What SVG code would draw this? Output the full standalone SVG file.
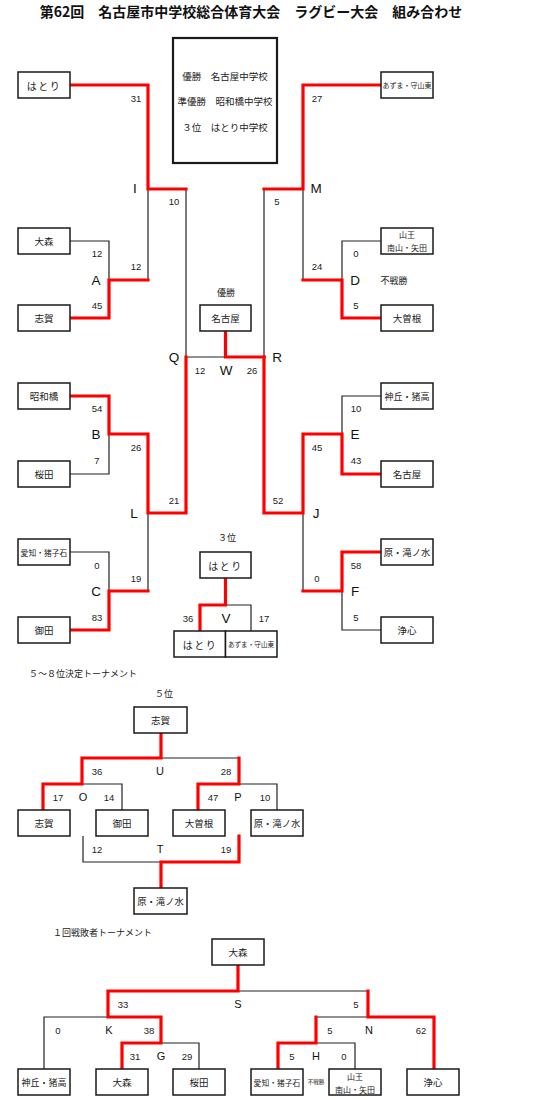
<svg xmlns="http://www.w3.org/2000/svg" width="545" height="1100" viewBox="0 0 545 1100">
<style>
.bg{fill:#fff}
.box{fill:#fff;stroke:#1a1a1a;stroke-width:1.5}
.info{fill:#fff;stroke:#1a1a1a;stroke-width:2.2}
.ln{fill:none;stroke:#222;stroke-width:1.2}
.rd{fill:none;stroke:#ff0000;stroke-width:3.2;stroke-linejoin:miter;stroke-linecap:square}
.t{font-family:"Noto Sans CJK JP",sans-serif;text-anchor:middle;dominant-baseline:central;fill:#222}
.nm{font-size:9.5px}
.sm{font-size:8px}
.xs{font-size:7px}
.sc{font-family:"Liberation Sans",Arial,sans-serif;font-size:9.5px;text-anchor:middle;dominant-baseline:central;fill:#222}
.lb{font-family:"Liberation Sans",Arial,sans-serif;font-size:13.5px;text-anchor:middle;dominant-baseline:central;fill:#111}
.lb2{font-family:"Liberation Sans",Arial,sans-serif;font-size:11px;text-anchor:middle;dominant-baseline:central;fill:#111}
.hd{font-family:"Noto Sans CJK JP",sans-serif;font-size:9px;dominant-baseline:central;fill:#222}
</style>
<rect class="bg" x="0" y="0" width="545" height="1100"/>
<text id="title" x="251" y="11" class="t" style="font-size:14px;font-weight:bold;fill:#111">第62回　名古屋市中学校総合体育大会　ラグビー大会　組み合わせ</text>

<g id="connectors">
  <!-- main bracket black -->
  <path class="ln" d="M70,241 H109 V280"/>
  <path class="ln" d="M70,474 H109 V434"/>
  <path class="ln" d="M70,552 H109 V591"/>
  <path class="ln" d="M148,189 V280"/>
  <path class="ln" d="M148,513 V591"/>
  <path class="ln" d="M186,189 V357 H225"/>
  <path class="ln" d="M381,241 H342 V280"/>
  <path class="ln" d="M381,396 H342 V434"/>
  <path class="ln" d="M381,630 H342 V591"/>
  <path class="ln" d="M303,189 V280"/>
  <path class="ln" d="M303,513 V591"/>
  <path class="ln" d="M264,189 V357"/>
  <!-- main bracket red -->
  <path class="rd" d="M70,85 H148 V189 H186"/>
  <path class="rd" d="M70,318 H109 V280 H148"/>
  <path class="rd" d="M70,396 H109 V434 H148 V513 H186 V357"/>
  <path class="rd" d="M70,630 H109 V591 H148"/>
  <path class="rd" d="M225.5,331 V357 H264"/>
  <path class="rd" d="M381,85 H303 V189 H264"/>
  <path class="rd" d="M381,318 H342 V280 H303"/>
  <path class="rd" d="M381,474 H342 V434 H303 V513 H264 V357"/>
  <path class="rd" d="M381,552 H342 V591 H303"/>
  <!-- 3rd place -->
  <path class="ln" d="M225.5,605 H251 V631"/>
  <path class="rd" d="M225.5,578 V605 H200 V631"/>
  <!-- 5-8 -->
  <path class="ln" d="M161,758 H239"/>
  <path class="ln" d="M82,784 H122 V810"/>
  <path class="ln" d="M239,784 H277 V810"/>
  <path class="ln" d="M83,836 V862 H161"/>
  <path class="rd" d="M161,733 V758 H82 V784 H43 V810"/>
  <path class="rd" d="M239,758 V784 H198 V810"/>
  <path class="rd" d="M239,836 V862 H161 V888"/>
  <!-- losers -->
  <path class="ln" d="M238,991 H368"/>
  <path class="ln" d="M108,1017 H44 V1069"/>
  <path class="ln" d="M161,1043 H199 V1069"/>
  <path class="ln" d="M368,1017 H316"/>
  <path class="ln" d="M316,1043 H355 V1069"/>
  <path class="rd" d="M238,965 V991 H108 V1017 H161 V1043 H122 V1069"/>
  <path class="rd" d="M368,991 V1017 H434 V1069"/>
  <path class="rd" d="M316,1017 V1043 H278 V1069"/>
</g>

<g id="info-box">
  <rect class="info" x="173" y="38" width="104" height="125"/>
  <text class="t" x="225" y="76" style="font-size:9.5px">優勝　名古屋中学校</text>
  <text class="t" x="225" y="101" style="font-size:9.5px">準優勝　昭和橋中学校</text>
  <text class="t" x="225" y="127" style="font-size:9.5px">３位　はとり中学校</text>
</g>

<!-- main bracket left nodes -->
<g id="n-hatori"><rect class="box" x="18" y="72" width="52" height="26"/><text class="t" x="44" y="85" style="font-size:10px;letter-spacing:1.5px">はとり</text></g>
<g id="n-omori"><rect class="box" x="18" y="228" width="52" height="26"/><text class="t nm" x="44" y="241">大森</text></g>
<g id="n-shiga"><rect class="box" x="18" y="305" width="52" height="26"/><text class="t nm" x="44" y="318">志賀</text></g>
<g id="n-showabashi"><rect class="box" x="18" y="383" width="52" height="26"/><text class="t nm" x="44" y="396">昭和橋</text></g>
<g id="n-sakurada"><rect class="box" x="18" y="461" width="52" height="26"/><text class="t nm" x="44" y="474">桜田</text></g>
<g id="n-aichi"><rect class="box" x="18" y="539" width="52" height="26"/><text class="t" x="44" y="552" style="font-size:7.8px">愛知・猪子石</text></g>
<g id="n-onda"><rect class="box" x="18" y="617" width="52" height="26"/><text class="t nm" x="44" y="630">御田</text></g>

<!-- main bracket right nodes -->
<g id="n-azuma"><rect class="box" x="381" y="72" width="52" height="26"/><text class="t xs" x="407" y="85">あずま・守山東</text></g>
<g id="n-sanno"><rect class="box" x="381" y="228" width="52" height="26"/><text class="t sm" x="407" y="234">山王</text><text class="t sm" x="407" y="247">南山・矢田</text></g>
<g id="n-ozone"><rect class="box" x="381" y="305" width="52" height="26"/><text class="t nm" x="407" y="318">大曽根</text></g>
<g id="n-kamioka"><rect class="box" x="381" y="383" width="52" height="26"/><text class="t" x="407" y="396" style="font-size:9px">神丘・猪高</text></g>
<g id="n-nagoya"><rect class="box" x="381" y="461" width="52" height="26"/><text class="t nm" x="407" y="474">名古屋</text></g>
<g id="n-hara"><rect class="box" x="381" y="539" width="52" height="26"/><text class="t" x="407" y="552" style="font-size:9.3px">原・滝ノ水</text></g>
<g id="n-joshin"><rect class="box" x="381" y="617" width="52" height="26"/><text class="t nm" x="407" y="630">浄心</text></g>

<!-- champion -->
<g id="n-champion"><text class="t" x="226" y="292" style="font-size:9px">優勝</text><rect class="box" x="200" y="305" width="51" height="26"/><text class="t nm" x="225.5" y="318">名古屋</text></g>

<!-- 3rd place -->
<g id="n-third"><text class="t" x="227" y="537" style="font-size:9px">３位</text><rect class="box" x="200" y="552" width="51" height="26"/><text class="t" x="225.5" y="565" style="font-size:10px;letter-spacing:1.5px">はとり</text></g>
<g id="n-v-hatori"><rect class="box" x="174" y="631" width="51.5" height="26"/><text class="t" x="200" y="644" style="font-size:10px;letter-spacing:1.5px">はとり</text></g>
<g id="n-v-azuma"><rect class="box" x="225.5" y="631" width="51.5" height="26"/><text class="t" x="251" y="644" style="font-size:6.6px">あずま・守山東</text></g>

<!-- main bracket labels -->
<g id="labels-main">
  <text class="sc" x="136" y="98">31</text>
  <text class="lb" x="135" y="188">I</text>
  <text class="sc" x="174" y="201">10</text>
  <text class="sc" x="97" y="253">12</text>
  <text class="lb" x="96" y="280">A</text>
  <text class="sc" x="97" y="305">45</text>
  <text class="sc" x="136" y="266">12</text>
  <text class="lb" x="174" y="357">Q</text>
  <text class="sc" x="97" y="408">54</text>
  <text class="lb" x="96" y="434">B</text>
  <text class="sc" x="97" y="460">7</text>
  <text class="sc" x="136" y="447">26</text>
  <text class="sc" x="174" y="500">21</text>
  <text class="lb" x="134" y="513">L</text>
  <text class="sc" x="97" y="565">0</text>
  <text class="lb" x="96" y="591">C</text>
  <text class="sc" x="97" y="617">83</text>
  <text class="sc" x="136" y="578">19</text>
  <text class="sc" x="200" y="370">12</text>
  <text class="lb" x="226" y="370">W</text>
  <text class="sc" x="252" y="370">26</text>
  <text class="sc" x="317" y="98">27</text>
  <text class="lb" x="316" y="188">M</text>
  <text class="sc" x="277" y="201">5</text>
  <text class="sc" x="356" y="253">0</text>
  <text class="lb" x="355" y="280">D</text>
  <text class="t" x="394" y="280" style="font-size:9px">不戦勝</text>
  <text class="sc" x="356" y="305">5</text>
  <text class="sc" x="317" y="266">24</text>
  <text class="lb" x="277" y="357">R</text>
  <text class="sc" x="356" y="408">10</text>
  <text class="lb" x="355" y="434">E</text>
  <text class="sc" x="356" y="460">43</text>
  <text class="sc" x="317" y="447">45</text>
  <text class="sc" x="278" y="500">52</text>
  <text class="lb" x="316" y="513">J</text>
  <text class="sc" x="356" y="565">58</text>
  <text class="lb" x="355" y="591">F</text>
  <text class="sc" x="356" y="617">5</text>
  <text class="sc" x="317" y="578">0</text>
  <text class="sc" x="188" y="618">36</text>
  <text class="lb" x="226" y="618">V</text>
  <text class="sc" x="264" y="618">17</text>
</g>

<!-- 5-8 tournament -->
<text id="h58" class="hd" x="29" y="673">５～８位決定トーナメント</text>
<g id="n-5th"><text class="t" x="164" y="693" style="font-size:9px">５位</text><rect class="box" x="134" y="707" width="53" height="26"/><text class="t nm" x="160.5" y="720">志賀</text></g>
<g id="n58-shiga"><rect class="box" x="18" y="810" width="52" height="26"/><text class="t nm" x="44" y="823">志賀</text></g>
<g id="n58-onda"><rect class="box" x="96" y="810" width="52" height="26"/><text class="t nm" x="122" y="823">御田</text></g>
<g id="n58-ozone"><rect class="box" x="173" y="810" width="52" height="26"/><text class="t nm" x="199" y="823">大曽根</text></g>
<g id="n58-hara"><rect class="box" x="251" y="810" width="52" height="26"/><text class="t" x="277" y="823" style="font-size:9.3px">原・滝ノ水</text></g>
<g id="n-7th"><rect class="box" x="134" y="888" width="53" height="26"/><text class="t" x="160.5" y="901" style="font-size:9.3px">原・滝ノ水</text></g>
<g id="labels-58">
  <text class="sc" x="97" y="771">36</text>
  <text class="lb2" x="160" y="771">U</text>
  <text class="sc" x="226" y="771">28</text>
  <text class="sc" x="58" y="797">17</text>
  <text class="lb2" x="83" y="797">O</text>
  <text class="sc" x="109" y="797">14</text>
  <text class="sc" x="213" y="797">47</text>
  <text class="lb2" x="238" y="797">P</text>
  <text class="sc" x="265" y="797">10</text>
  <text class="sc" x="97" y="849">12</text>
  <text class="lb2" x="160" y="849">T</text>
  <text class="sc" x="226" y="849">19</text>
</g>

<!-- first-round losers tournament -->
<text id="hlosers" class="hd" x="53" y="932">１回戦敗者トーナメント</text>
<g id="nl-omori-top"><rect class="box" x="212" y="939" width="52" height="26"/><text class="t nm" x="238" y="952">大森</text></g>
<g id="nl-kamioka"><rect class="box" x="18" y="1069" width="52" height="26"/><text class="t" x="44" y="1082" style="font-size:9px">神丘・猪高</text></g>
<g id="nl-omori"><rect class="box" x="96" y="1069" width="52" height="26"/><text class="t nm" x="122" y="1082">大森</text></g>
<g id="nl-sakurada"><rect class="box" x="173" y="1069" width="52" height="26"/><text class="t nm" x="199" y="1082">桜田</text></g>
<g id="nl-aichi"><rect class="box" x="251" y="1069" width="52" height="26"/><text class="t" x="277" y="1082" style="font-size:7.8px">愛知・猪子石</text></g>
<g id="nl-sanno"><rect class="box" x="329" y="1069" width="52" height="26"/><text class="t sm" x="355" y="1076">山王</text><text class="t sm" x="355" y="1089">南山・矢田</text></g>
<g id="nl-joshin"><rect class="box" x="407" y="1069" width="52" height="26"/><text class="t nm" x="433" y="1082">浄心</text></g>
<g id="labels-losers">
  <text class="sc" x="123" y="1004">33</text>
  <text class="lb2" x="238" y="1004">S</text>
  <text class="sc" x="356" y="1004">5</text>
  <text class="sc" x="58" y="1030">0</text>
  <text class="lb2" x="109" y="1030">K</text>
  <text class="sc" x="149" y="1030">38</text>
  <text class="sc" x="135" y="1056">31</text>
  <text class="lb2" x="161" y="1056">G</text>
  <text class="sc" x="187" y="1056">29</text>
  <text class="sc" x="330" y="1030">5</text>
  <text class="lb2" x="369" y="1030">N</text>
  <text class="sc" x="421" y="1030">62</text>
  <text class="sc" x="292" y="1056">5</text>
  <text class="lb2" x="316" y="1056">H</text>
  <text class="sc" x="344" y="1056">0</text>
  <text class="t" x="316" y="1082" style="font-size:5.5px">不戦勝</text>
</g>
</svg>
